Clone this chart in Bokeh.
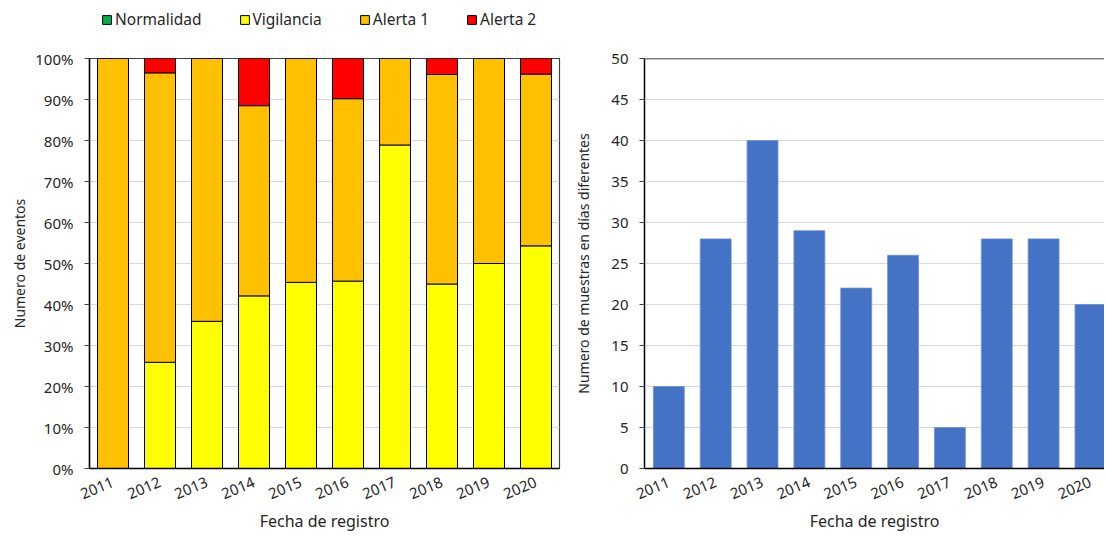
from bokeh.plotting import figure
from bokeh.models import (FactorRange, Range1d, Legend, LegendItem, FixedTicker,
                          NumeralTickFormatter, Span, ColumnDataSource)
from bokeh.layouts import row, column
from bokeh.embed import file_html
from bokeh.resources import INLINE

years = ["2011", "2012", "2013", "2014", "2015", "2016", "2017", "2018", "2019", "2020"]
normalidad = [0, 0, 0, 0, 0, 0, 0, 0, 0, 0]
vigilancia = [0, 25.9, 35.9, 42.1, 45.4, 45.7, 78.9, 45.0, 50.0, 54.3]
alerta1 = [100, 70.6, 64.1, 46.4, 54.6, 44.5, 21.1, 51.1, 50.0, 41.9]
alerta2 = [0, 3.5, 0, 11.5, 0, 9.8, 0, 3.9, 0, 3.8]
muestras = [10, 28, 40, 29, 22, 26, 5, 28, 28, 20]

series = ["Normalidad", "Vigilancia", "Alerta 1", "Alerta 2"]
colors = ["#00B050", "#FFFF00", "#FFC000", "#FF0000"]

FONT = "Noto Sans"
TXT = "#262626"
TICK_FS = "15px"
LAB_FS = "16px"
YLAB_FS = "14px"

src = ColumnDataSource(dict(year=years, Normalidad=[v / 100 for v in normalidad],
                            Vigilancia=[v / 100 for v in vigilancia],
                            **{"Alerta 1": [v / 100 for v in alerta1],
                               "Alerta 2": [v / 100 for v in alerta2]}))


def style_axes(p, ylab_standoff):
    p.xgrid.grid_line_color = None
    p.ygrid.grid_line_color = "#d9d9d9"
    p.xaxis.major_label_orientation = 0.4
    p.xaxis.major_tick_line_color = None
    p.xaxis.minor_tick_line_color = None
    p.xaxis.major_tick_out = 0
    p.xaxis.minor_tick_out = 0
    p.yaxis.minor_tick_line_color = None
    p.yaxis.major_tick_out = 5
    p.yaxis.major_tick_in = 0
    p.yaxis.major_tick_line_color = "#404040"
    for ax in (p.xaxis[0], p.yaxis[0]):
        ax.axis_line_color = "black"
        ax.axis_line_width = 1.5
        ax.major_label_text_font = FONT
        ax.major_label_text_font_size = TICK_FS
        ax.major_label_text_color = TXT
        ax.axis_label_text_font = FONT
        ax.axis_label_text_font_size = LAB_FS
        ax.axis_label_text_font_style = "normal"
        ax.axis_label_text_color = TXT
    p.yaxis.axis_label_text_font_size = YLAB_FS
    p.yaxis.major_label_standoff = 11
    p.yaxis.axis_label_standoff = ylab_standoff
    p.xaxis.major_label_standoff = 13
    p.xaxis.axis_label_standoff = 3


LEFT_W = 570

# legend strip above the left chart (its bars lie outside its visible range)
lf = figure(width=LEFT_W, height=40, x_range=FactorRange(*years), y_range=Range1d(5, 6),
            output_backend="svg", toolbar_location=None,
            x_axis_location=None, y_axis_location=None,
            min_border_left=89, min_border_right=LEFT_W - 559,
            min_border_top=0, min_border_bottom=0)
lf.outline_line_color = None
lf.grid.grid_line_color = None
lrs = lf.vbar_stack(series, x="year", width=0.66, source=src, color=colors,
                    line_color="black", line_width=1)
legend = Legend(items=[LegendItem(label=s, renderers=[r]) for s, r in zip(series, lrs)],
                orientation="horizontal", location=(12, 10),
                border_line_color=None, background_fill_alpha=0,
                label_text_font=FONT, label_text_font_size="15.5px", label_text_color=TXT,
                glyph_width=11, glyph_height=11, label_standoff=3, spacing=37,
                padding=2, margin=0)
lf.add_layout(legend, "center")

p1 = figure(width=LEFT_W, height=495, x_range=FactorRange(*years), y_range=Range1d(0, 1),
            output_backend="svg", toolbar_location=None,
            min_border_left=89, min_border_right=LEFT_W - 559,
            min_border_top=18, min_border_bottom=67)
rs = p1.vbar_stack(series, x="year", width=0.66, source=src, color=colors,
                   line_color="black", line_width=1)
p1.outline_line_color = "#404040"
p1.outline_line_width = 1.2
p1.yaxis.ticker = FixedTicker(ticks=[i / 10 for i in range(11)])
p1.yaxis.formatter = NumeralTickFormatter(format="0%")
p1.xaxis.axis_label = "Fecha de registro"
p1.yaxis.axis_label = "Numero de eventos"
style_axes(p1, 3)

yr_num = [int(y) for y in years]
p2 = figure(width=1104 - LEFT_W, height=535, x_range=Range1d(2010.48, 2020.30),
            y_range=Range1d(0, 50),
            output_backend="svg", toolbar_location=None,
            min_border_left=644 - LEFT_W, min_border_right=0, min_border_top=58,
            min_border_bottom=67)
p2.vbar(x=yr_num, top=muestras, width=0.66, color="#4472C4", line_color="#6d8fd0",
        line_width=0.8)
p2.add_layout(Span(location=50, dimension="width", line_color="black", line_width=1.5))
p2.outline_line_color = None
p2.xaxis.ticker = FixedTicker(ticks=yr_num)
p2.yaxis.ticker = FixedTicker(ticks=list(range(0, 51, 5)))
p2.xaxis.axis_label = "Fecha de registro"
p2.yaxis.axis_label = "Numero de muestras en días diferentes"
style_axes(p2, 15)

layout = row(column(lf, p1), p2)
open("out.html", "w").write(file_html(layout, INLINE))
